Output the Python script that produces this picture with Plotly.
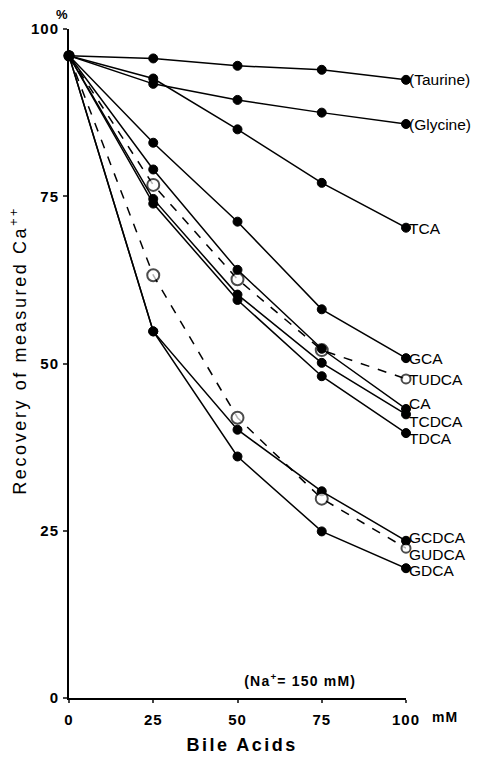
import plotly.graph_objects as go

# ---- data ----
bile_acid_mM = [0, 25, 50, 75, 100]
series_names = ["(Taurine)", "(Glycine)", "TCA", "GCA", "TUDCA", "CA",
                "TCDCA", "TDCA", "GCDCA", "GUDCA", "GDCA"]
taurine = [96, 95.6, 94.5, 93.9, 92.4]
glycine = [96, 91.8, 89.4, 87.5, 85.8]
tca = [96, 92.6, 85.0, 77.0, 70.3]
gca = [96, 83.0, 71.2, 58.1, 50.8]
tudca = [96, 76.7, 62.6, 52.0, 47.7]
ca = [96, 79.0, 64.0, 52.2, 43.2]
tcdca = [96, 74.6, 60.3, 50.1, 42.4]
tdca = [96, 73.9, 59.5, 48.1, 39.6]
gcdca = [96, 54.8, 40.1, 30.9, 23.5]
gudca = [96, 63.2, 41.9, 29.8, 22.4]
gdca = [96, 54.8, 36.1, 24.9, 19.4]
series_values = [taurine, glycine, tca, gca, tudca, ca, tcdca, tdca, gcdca, gudca, gdca]
open_series = {"TUDCA", "GUDCA"}
y_ticks = [0, 25, 50, 75, 100]
x_ticks = [0, 25, 50, 75, 100]

# ---- style ----
label_yshift = {"(Taurine)": 0, "(Glycine)": 0, "TCA": -1, "GCA": 0, "TUDCA": -1,
                "CA": 5, "TCDCA": -7, "TDCA": -5, "GCDCA": 3, "GUDCA": -6, "GDCA": -2}
FONT = "Liberation Sans, Arial, sans-serif"
BLACK = "black"

fig = go.Figure()
for name, vals in zip(series_names, series_values):
    is_open = name in open_series
    if is_open:
        marker = dict(symbol="circle", size=[9, 12, 12, 12, 9], color="white",
                      line=dict(color=BLACK, width=2))
        line = dict(color=BLACK, width=1.5, dash="dash")
    else:
        marker = dict(symbol="circle", size=9, color=BLACK,
                      line=dict(color=BLACK, width=1))
        line = dict(color=BLACK, width=1.5)
    fig.add_trace(go.Scatter(x=bile_acid_mM, y=vals, mode="lines+markers",
                             line=line, marker=marker, name=name,
                             showlegend=False, cliponaxis=False))
    fig.add_annotation(x=bile_acid_mM[-1], y=vals[-1], text=name, showarrow=False,
                       xanchor="left", yanchor="middle", xshift=1,
                       yshift=label_yshift[name],
                       font=dict(family=FONT, size=15.5, color=BLACK))

# common start marker drawn on top
fig.add_trace(go.Scatter(x=[bile_acid_mM[0]], y=[taurine[0]], mode="markers",
                         marker=dict(size=11, color=BLACK), showlegend=False,
                         cliponaxis=False))

fig.add_annotation(xref="paper", yref="paper", x=0.685, y=0.027,
                   text="(Na<sup>+</sup>= 150 mM)", showarrow=False,
                   xanchor="center", yanchor="middle",
                   font=dict(family=FONT, size=14, color=BLACK, weight="bold"))
fig.add_annotation(xref="paper", yref="paper", x=-0.022, y=1.0215, text="%",
                   showarrow=False, xanchor="center", yanchor="middle", height=11,
                   font=dict(family=FONT, size=13, color=BLACK, weight="bold"))
fig.add_annotation(xref="paper", yref="paper", x=1.075, y=-0.028, text="mM",
                   showarrow=False, xanchor="left", yanchor="middle",
                   font=dict(family=FONT, size=14, color=BLACK, weight="bold"))
fig.add_annotation(xref="paper", yref="paper", x=0.513, y=-0.070, text="Bile Acids",
                   showarrow=False, xanchor="center", yanchor="middle",
                   font=dict(family=FONT, size=18, color=BLACK, weight="bold"))
fig.add_annotation(xref="paper", yref="paper", x=-0.151, y=0.52,
                   text="Recovery of measured Ca<sup>++</sup>",
                   textangle=-90, showarrow=False, xanchor="center", yanchor="middle",
                   font=dict(family=FONT, size=18, color=BLACK))

axis_font = dict(family=FONT, size=15, color=BLACK, weight="bold")
fig.update_xaxes(range=[0, 100], tickvals=x_ticks, ticks="outside", ticklen=3,
                 tickwidth=1.5, showline=True, linecolor=BLACK, linewidth=2,
                 showgrid=False, zeroline=False, ticklabelstandoff=4,
                 tickfont=axis_font)
fig.update_yaxes(range=[0, 100], tickvals=y_ticks, ticks="outside", ticklen=4,
                 tickwidth=1.5, showline=True, linecolor=BLACK, linewidth=2,
                 showgrid=False, zeroline=False, ticklabelstandoff=1,
                 tickfont=axis_font)

# page body has an 8px margin: figure is placed so the plot area matches the reference
fig.update_layout(width=472, height=758, margin=dict(l=61, r=74, t=21, b=68),
                  plot_bgcolor="white", paper_bgcolor="white")

post = """
var gd = document.getElementById('{plot_id}');
gd.querySelectorAll('text.annotation-text').forEach(function(t){
  var s = t.textContent;
  if (s.indexOf('Recovery') === 0) t.style.letterSpacing = '2.6px';
  else if (s.indexOf('Bile') === 0) t.style.letterSpacing = '2.5px';
  else if (s.indexOf('(Na') === 0) t.style.letterSpacing = '1.2px';
  else if (s === 'mM') t.style.letterSpacing = '1px';
});
gd.querySelectorAll('.xtick text, .ytick text').forEach(function(t){
  t.style.letterSpacing = '1px';
});
"""
fig.write_html("out.html", post_script=post)
